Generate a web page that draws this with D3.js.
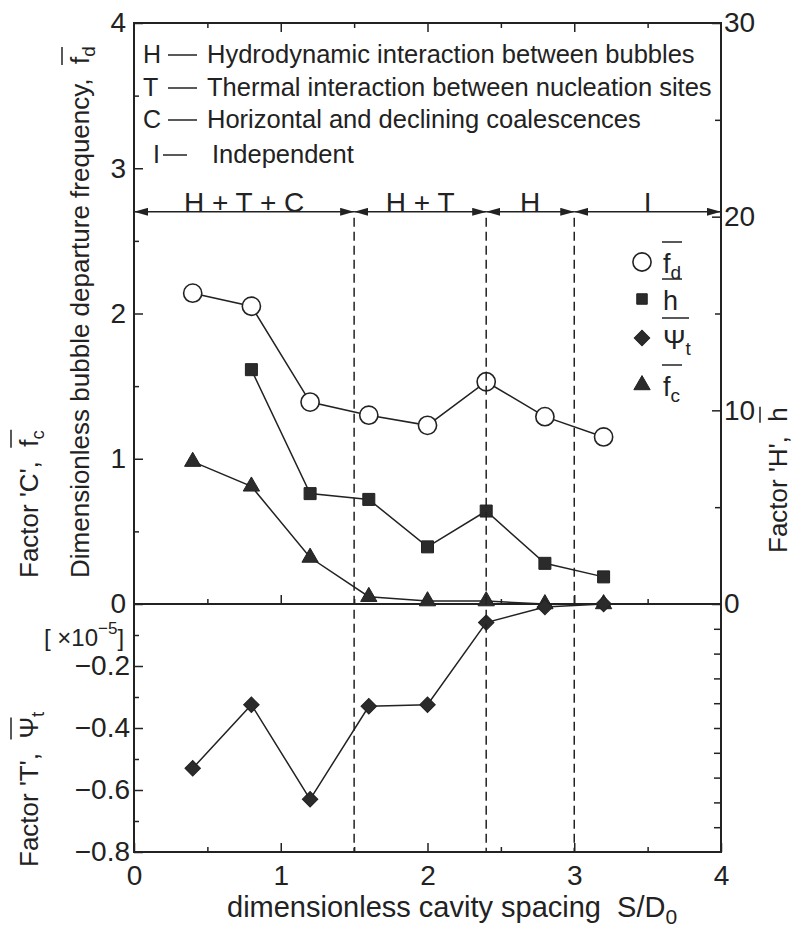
<!DOCTYPE html>
<html>
<head>
<meta charset="utf-8">
<script src="https://cdn.jsdelivr.net/npm/d3@7"></script>
<style>
body { margin: 0; background: #fff; }
svg text { font-family: "Liberation Sans", Arial, sans-serif; fill: #222; white-space: pre; }
</style>
</head>
<body>
<div id="chart"></div>
<script>
// values
const spacing = [0.4, 0.8, 1.2, 1.6, 2.0, 2.4, 2.8, 3.2];
const fdValues = [2.14, 2.05, 1.39, 1.30, 1.23, 1.53, 1.29, 1.15];
const hSpacing = [0.8, 1.2, 1.6, 2.0, 2.4, 2.8, 3.2];
const hValues = [12.1, 5.7, 5.4, 2.95, 4.8, 2.1, 1.4];
const psiValues = [-0.53, -0.325, -0.63, -0.33, -0.325, -0.06, -0.01, 0.0];
const fcValues = [0.98, 0.81, 0.32, 0.05, 0.02, 0.02, 0.0, 0.0];

const regionStart = [0, 1.5, 2.4, 3.0];
const regionEnd = [1.5, 2.4, 3.0, 4.0];
const regionLabels = ["H + T + C", "H + T", "H", "I"];
const boundaries = [1.5, 2.4, 3.0];

const noteKeys = ["H", "T", "C", "I"];
const noteTexts = [
    "Hydrodynamic interaction between bubbles",
    "Thermal interaction between nucleation sites",
    "Horizontal and declining coalescences",
    "Independent"
];

const xTicks = [0, 1, 2, 3, 4];
const xMinor = [0.5, 1.5, 2.5, 3.5];
const yTopTicks = [0, 1, 2, 3, 4];
const yTopMinor = [0.5, 1.5, 2.5, 3.5];
const yBotTicks = [-0.2, -0.4, -0.6, -0.8];
const yBotMinor = [-0.1, -0.3, -0.5, -0.7];
const hTicks = [0, 10, 20, 30];
const hMinor = [5, 15, 25];

const width = 795;
const height = 928;
const ink = "#222";
const font = '"Liberation Sans", Arial, sans-serif';

const svg = d3.select('#chart')
    .append('svg')
    .attr('width', width)
    .attr('height', height);

svg.append('rect').attr('width', width).attr('height', height).attr('fill', '#fff');

const x = d3.scaleLinear().domain([0, 4]).range([134, 721]);
const yTop = d3.scaleLinear().domain([0, 4]).range([604, 23]);
const yBot = d3.scaleLinear().domain([-0.8, 0]).range([852, 604]);
const yH = d3.scaleLinear().domain([0, 30]).range([604, 23]);
const yRightBot = d3.scaleLinear().domain([-10, 0]).range([852, 604]);

function styleAxis(g) {
    g.select('.domain').remove();
    g.attr('font-family', font).attr('font-size', 28);
    g.selectAll('line').attr('stroke', ink).attr('stroke-width', 1.5);
    g.selectAll('text').attr('fill', ink);
}

// left axis
svg.append('g').attr('transform', `translate(${x(0)},0)`)
    .call(d3.axisLeft(yTop).tickValues(yTopTicks).tickSizeInner(-9).tickSizeOuter(0).tickPadding(8).tickFormat(d3.format('d')))
    .call(styleAxis);
svg.append('g').attr('transform', `translate(${x(0)},0)`)
    .call(d3.axisLeft(yTop).tickValues(yTopMinor).tickSizeInner(-5).tickSizeOuter(0).tickFormat(''))
    .call(styleAxis);
svg.append('g').attr('transform', `translate(${x(0)},0)`)
    .call(d3.axisLeft(yBot).tickValues(yBotTicks).tickSizeInner(-9).tickSizeOuter(0).tickPadding(4).tickFormat(d3.format('.1f')))
    .call(styleAxis);
svg.append('g').attr('transform', `translate(${x(0)},0)`)
    .call(d3.axisLeft(yBot).tickValues(yBotMinor).tickSizeInner(-5).tickSizeOuter(0).tickFormat(''))
    .call(styleAxis);

// right axis
svg.append('g').attr('transform', `translate(${x(4)},0)`)
    .call(d3.axisRight(yH).tickValues(hTicks).tickSizeInner(-9).tickSizeOuter(0).tickPadding(3).tickFormat(d3.format('d')))
    .call(styleAxis);
svg.append('g').attr('transform', `translate(${x(4)},0)`)
    .call(d3.axisRight(yH).tickValues(hMinor).tickSizeInner(-6).tickSizeOuter(0).tickFormat(''))
    .call(styleAxis);
svg.append('g').attr('transform', `translate(${x(4)},0)`)
    .call(d3.axisRight(yRightBot).tickValues(d3.range(-9, 0)).tickSizeInner(-7).tickSizeOuter(0).tickFormat(''))
    .call(styleAxis);

// bottom axis
svg.append('g').attr('transform', `translate(0,${yBot(-0.8)})`)
    .call(d3.axisBottom(x).tickValues(xTicks).tickSizeInner(-9).tickSizeOuter(0).tickPadding(13).tickFormat(d3.format('d')))
    .call(styleAxis);
svg.append('g').attr('transform', `translate(0,${yBot(-0.8)})`)
    .call(d3.axisBottom(x).tickValues(xMinor).tickSizeInner(-5).tickSizeOuter(0).tickFormat(''))
    .call(styleAxis);

// top axis, ticks only
svg.append('g').attr('transform', `translate(0,${yTop(4)})`)
    .call(d3.axisTop(x).tickValues([1, 2, 3]).tickSizeInner(-9).tickSizeOuter(0).tickFormat(''))
    .call(styleAxis);
svg.append('g').attr('transform', `translate(0,${yTop(4)})`)
    .call(d3.axisTop(x).tickValues(xMinor).tickSizeInner(-5).tickSizeOuter(0).tickFormat(''))
    .call(styleAxis);

// zero line with upward ticks
svg.append('g').attr('transform', `translate(0,${yTop(0)})`)
    .call(d3.axisTop(x).tickValues([1, 2, 3]).tickSizeInner(9).tickSizeOuter(0).tickFormat(''))
    .call(styleAxis);
svg.append('g').attr('transform', `translate(0,${yTop(0)})`)
    .call(d3.axisTop(x).tickValues(xMinor).tickSizeInner(5).tickSizeOuter(0).tickFormat(''))
    .call(styleAxis);
svg.append('line')
    .attr('x1', x(0)).attr('x2', x(4))
    .attr('y1', yTop(0)).attr('y2', yTop(0))
    .attr('stroke', ink).attr('stroke-width', 2);

// frame
svg.append('rect')
    .attr('x', x(0)).attr('y', yTop(4))
    .attr('width', x(4) - x(0)).attr('height', yBot(-0.8) - yTop(4))
    .attr('fill', 'none').attr('stroke', ink).attr('stroke-width', 2);

// notes in the top-left
const noteY = [63, 96, 128, 163];
const notes = svg.append('g');
noteKeys.forEach((k, i) => {
    const last = i === 3;
    notes.append('text')
        .attr('x', last ? 153 : 143)
        .attr('y', noteY[i])
        .attr('font-size', 25)
        .text(k);
    notes.append('line')
        .attr('x1', last ? 163 : 168).attr('x2', last ? 187 : 197)
        .attr('y1', noteY[i] - 8).attr('y2', noteY[i] - 8)
        .attr('stroke', ink).attr('stroke-width', 1.5);
    notes.append('text')
        .attr('x', last ? 212 : 207)
        .attr('y', noteY[i])
        .attr('font-size', 25.5)
        .text(noteTexts[i]);
});

// region arrows
const defs = svg.append('defs');
defs.append('marker')
    .attr('id', 'arrow')
    .attr('viewBox', '0 0 14 8')
    .attr('refX', 14).attr('refY', 4)
    .attr('markerWidth', 14).attr('markerHeight', 8)
    .attr('markerUnits', 'userSpaceOnUse')
    .attr('orient', 'auto-start-reverse')
    .append('path')
    .attr('d', 'M0,0 L14,4 L0,8 Z')
    .attr('fill', ink);

const arrowY = yTop(2.7);
svg.append('g').selectAll('line')
    .data(regionStart)
    .enter()
    .append('line')
    .attr('x1', d => x(d))
    .attr('x2', (d, i) => x(regionEnd[i]))
    .attr('y1', arrowY).attr('y2', arrowY)
    .attr('stroke', ink).attr('stroke-width', 1.5)
    .attr('marker-start', 'url(#arrow)')
    .attr('marker-end', 'url(#arrow)');

svg.append('g').selectAll('text')
    .data(regionLabels)
    .enter()
    .append('text')
    .attr('x', (d, i) => x((regionStart[i] + regionEnd[i]) / 2))
    .attr('y', arrowY)
    .attr('text-anchor', 'middle')
    .attr('font-size', 28)
    .text(d => d);

// series lines
const line = d3.line();
function drawLine(xs, ys, scale) {
    svg.append('path')
        .attr('d', line(xs.map((d, i) => [x(d), scale(ys[i])])))
        .attr('fill', 'none')
        .attr('stroke', ink)
        .attr('stroke-width', 1.5);
}
drawLine(spacing, fdValues, yTop);
drawLine(hSpacing, hValues, yH);
drawLine(spacing, psiValues, yBot);
drawLine(spacing, fcValues, yTop);

// markers
const fill = '#2b2b2b';
const symCircle = d3.symbol().type(d3.symbolCircle).size(260);
const symSquare = d3.symbol().type(d3.symbolSquare).size(144);
const symDiamond = d3.symbol().type(d3.symbolSquare).size(120);
const symTriangle = d3.symbol().type(d3.symbolTriangle).size(115);

function drawMarkers(xs, ys, scale, sym, opts) {
    svg.append('g').selectAll('path')
        .data(xs)
        .enter()
        .append('path')
        .attr('d', sym)
        .attr('transform', (d, i) => `translate(${x(d)},${scale(ys[i])})` + (opts.rotate ? ' rotate(45)' : ''))
        .attr('fill', opts.fill)
        .attr('stroke', ink)
        .attr('stroke-width', opts.sw || 1);
}
drawMarkers(spacing, fcValues, yTop, symTriangle, { fill: fill });
drawMarkers(spacing, psiValues, yBot, symDiamond, { fill: fill, rotate: true });
drawMarkers(hSpacing, hValues, yH, symSquare, { fill: fill });
drawMarkers(spacing, fdValues, yTop, symCircle, { fill: '#fff', sw: 1.6 });

// region boundaries
svg.append('g').selectAll('line')
    .data(boundaries)
    .enter()
    .append('line')
    .attr('x1', d => x(d)).attr('x2', d => x(d))
    .attr('y1', arrowY + 6).attr('y2', yBot(-0.8))
    .attr('stroke', ink).attr('stroke-width', 1.5)
    .attr('stroke-dasharray', '9,5');

// legend
const legendRowY = [262, 299, 338, 385];
const legendItems = [
    { sym: symCircle, fill: '#fff', rotate: false, main: 'f', sub: 'd', bar: 20 },
    { sym: d3.symbol().type(d3.symbolSquare).size(110), fill: fill, rotate: false, main: 'h', sub: '', bar: 20 },
    { sym: symDiamond, fill: fill, rotate: true, main: '\u03A8', sub: 't', bar: 27 },
    { sym: symTriangle, fill: fill, rotate: false, main: 'f', sub: 'c', bar: 20 }
];
legendItems.forEach((item, i) => {
    const cy = legendRowY[i];
    svg.append('path')
        .attr('d', item.sym)
        .attr('transform', `translate(642,${cy})` + (item.rotate ? ' rotate(45)' : ''))
        .attr('fill', item.fill)
        .attr('stroke', ink)
        .attr('stroke-width', item.fill === '#fff' ? 1.6 : 1);
    const t = svg.append('text')
        .attr('x', 663)
        .attr('y', cy + 11)
        .attr('font-size', 27);
    t.append('tspan').text(item.main);
    if (item.sub) {
        t.append('tspan').attr('dy', 6).attr('font-size', 19).text(item.sub);
    }
    svg.append('line')
        .attr('x1', 662).attr('x2', 662 + item.bar)
        .attr('y1', cy + 11 - 31).attr('y2', cy + 11 - 31)
        .attr('stroke', ink).attr('stroke-width', 1.5);
});

// axis titles, overline drawn as a short bar in the rotated frame
function rotatedTitle(tx, ty, main, sym, sub, size, barLen) {
    const g = svg.append('g').attr('transform', `translate(${tx},${ty}) rotate(-90)`);
    const t = g.append('text').attr('font-size', size);
    const m = t.append('tspan').text(main);
    t.append('tspan').text(sym);
    t.append('tspan').attr('dy', 6).attr('font-size', size * 0.72).text(sub);
    const start = m.node().getComputedTextLength();
    g.append('line')
        .attr('x1', start - 1).attr('x2', start - 1 + barLen)
        .attr('y1', -27).attr('y2', -27)
        .attr('stroke', ink).attr('stroke-width', 1.5);
}
rotatedTitle(89, 578, 'Dimensionless bubble departure frequency,  ', 'f', 'd', 26, 18);
rotatedTitle(38, 578, "Factor 'C',  ", 'f', 'c', 26, 18);
rotatedTitle(38, 867, "Factor 'T',  ", '\u03A8', 't', 26, 22);
rotatedTitle(787, 553, "Factor 'H',  ", 'h', '', 26, 16);

// scale note
const note = svg.append('text').attr('x', 44).attr('y', 646).attr('font-size', 24);
note.append('tspan').text('[ \u00D710');
note.append('tspan').attr('dy', -12).attr('font-size', 17).text('\u22125');
note.append('tspan').attr('dy', 12).text(']');

// x title
const xt = svg.append('text').attr('x', 227).attr('y', 917).attr('font-size', 29);
xt.append('tspan').text('dimensionless cavity spacing  S/D');
xt.append('tspan').attr('dy', 7).attr('font-size', 21).text('0');
</script>
</body>
</html>
